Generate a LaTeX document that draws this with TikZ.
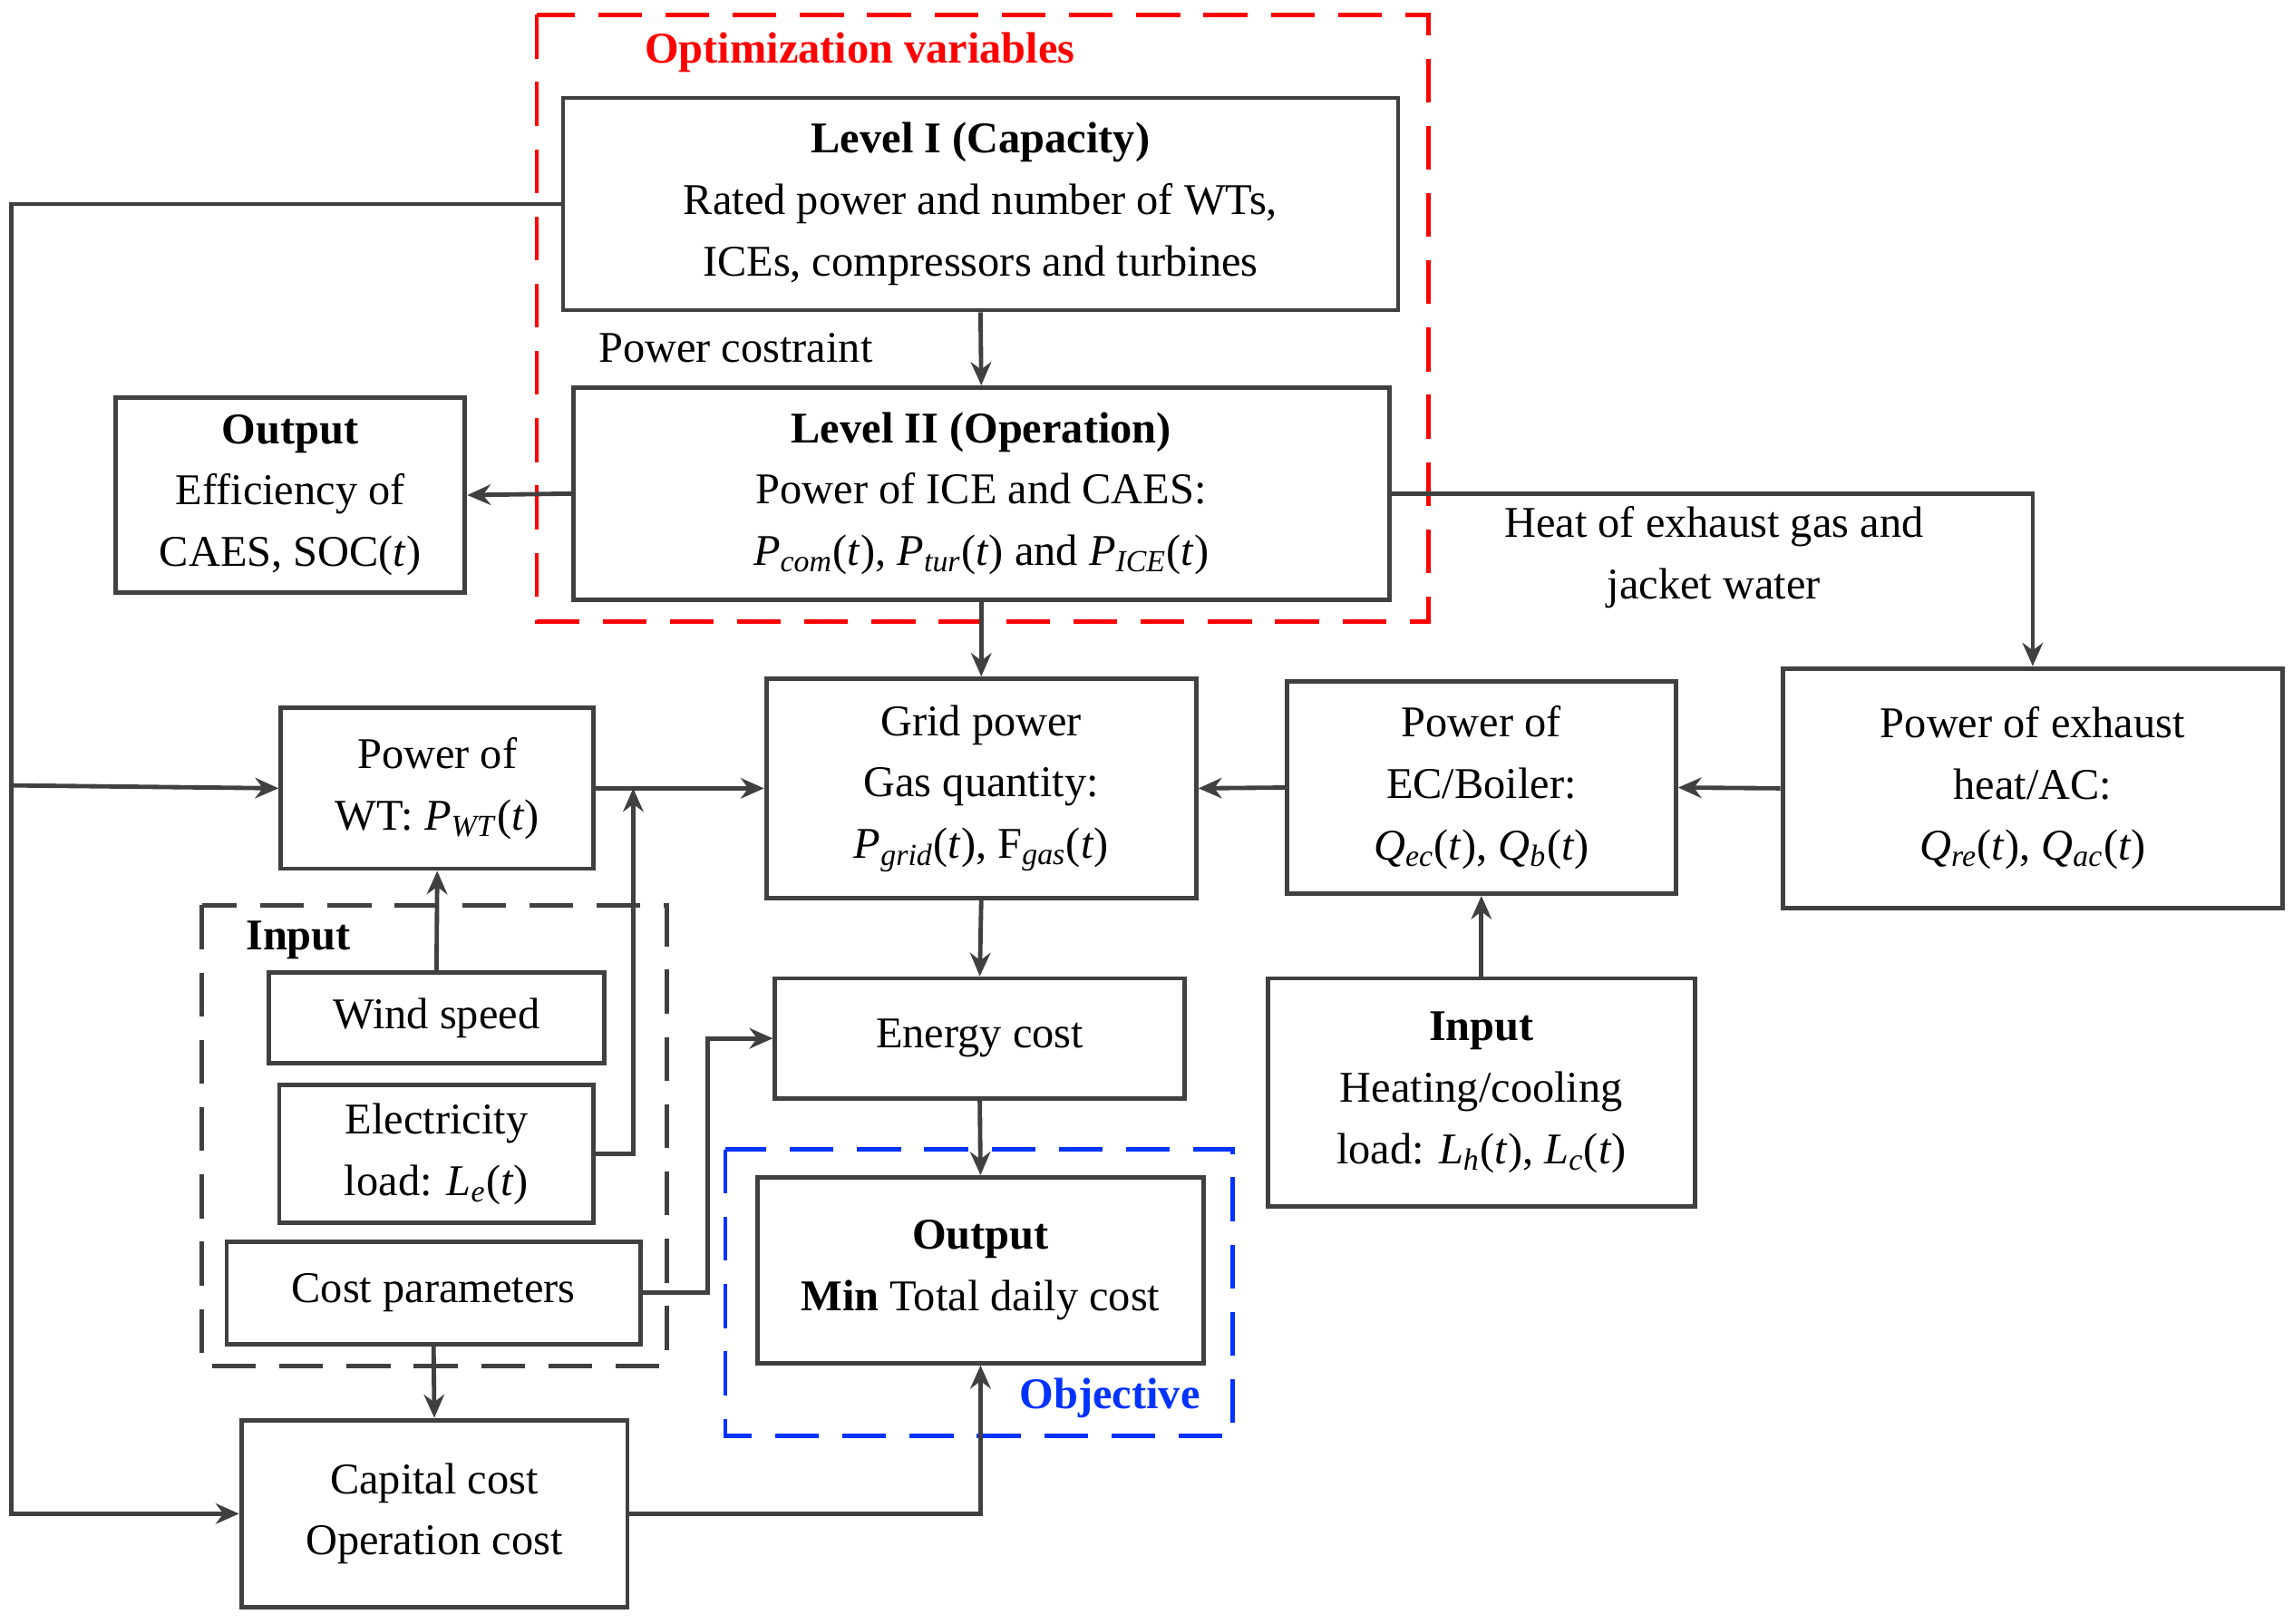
\documentclass[tikz,border=0pt]{standalone}
\usepackage{fontspec}
\setmainfont{Liberation Serif}
\usetikzlibrary{arrows.meta}
\newcommand\sbs[1]{\textsubscript{\textit{#1}}}
\newcommand\ii[1]{\textit{#1}}
\begin{document}
\begin{tikzpicture}[x=0.5pt,y=-0.5pt,
  box/.style={draw=lc,line width=1.5pt,inner sep=0pt,align=center,font=\fontsize{15}{21}\selectfont},
  con/.style={draw=lc,line width=1.5pt,-{Stealth[length=8pt,width=7pt]}},
  ln/.style={draw=lc,line width=1.5pt},
  dsh/.style={line width=1.5pt,dash pattern=on 15pt off 8pt},
  lab/.style={font=\fontsize{15}{21}\selectfont,align=center,inner sep=0pt}]
\definecolor{lc}{HTML}{404040}
\useasboundingbox (0,0) rectangle (1568,1110);
\draw[dsh,red] (367,10) rectangle (977,425);
\node[lab,red,font=\fontsize{15}{21}\selectfont\bfseries] (ov) at (588,36) {Optimization variables};
\draw[dsh,blue!80!cyan] (496,786) rectangle (843,982);
\node[lab,blue!80!cyan,font=\fontsize{15}{21}\selectfont\bfseries] (obj) at (759,956) {Objective};
\draw[dsh,lc] (138,619) rectangle (456,934);
\node[lab,font=\fontsize{15}{21}\selectfont\bfseries] (inl) at (204,643) {Input};

\node[box,minimum width=285.5pt,minimum height=72.5pt] (l1) at (670.5,139.5) {\textbf{Level I (Capacity)}\\Rated power and number of WTs,\\ICEs, compressors and turbines};
\node[box,minimum width=279pt,minimum height=72.5pt] (l2) at (671,337.5) {\textbf{Level II (Operation)}\\Power of ICE and CAES:\\\ii{P}\sbs{com}(\ii{t}), \ii{P}\sbs{tur}(\ii{t}) and \ii{P}\sbs{ICE}(\ii{t})};
\node[box,minimum width=119.5pt,minimum height=66.5pt] (out) at (198.5,338.5) {\textbf{Output}\\Efficiency of\\CAES, SOC(\ii{t})};
\node[box,minimum width=171pt,minimum height=82pt] (ex) at (1390,539) {Power of exhaust\\heat/AC:\\\ii{Q}\sbs{re}(\ii{t}), \ii{Q}\sbs{ac}(\ii{t})};
\node[box,minimum width=133pt,minimum height=72.5pt] (ec) at (1013,538.5) {Power of\\EC/Boiler:\\\ii{Q}\sbs{ec}(\ii{t}), \ii{Q}\sbs{b}(\ii{t})};
\node[box,minimum width=147pt,minimum height=75pt] (gr) at (671,539) {Grid power\\Gas quantity:\\\ii{P}\sbs{grid}(\ii{t}), F\sbs{gas}(\ii{t})};
\node[box,minimum width=107pt,minimum height=55pt] (wt) at (299,539) {Power of\\WT: \ii{P}\sbs{WT}(\ii{t})};
\node[box,minimum width=146pt,minimum height=78pt] (inr) at (1013,747) {\textbf{Input}\\Heating/cooling\\load: \ii{L}\sbs{h}(\ii{t}), \ii{L}\sbs{c}(\ii{t})};
\node[box,minimum width=140pt,minimum height=41pt] (en) at (670,710) {Energy cost};
\node[box,minimum width=152.5pt,minimum height=63.5pt] (om) at (670.5,868.5) {\textbf{Output}\\\textbf{Min} Total daily cost};
\node[box,minimum width=114.5pt,minimum height=31pt] (ws) at (298.5,696) {Wind speed};
\node[box,minimum width=107.5pt,minimum height=47pt] (el) at (298.5,789) {Electricity\\load: \ii{L}\sbs{e}(\ii{t})};
\node[box,minimum width=141.5pt,minimum height=35pt] (cp) at (296.5,884) {Cost parameters};
\node[box,minimum width=132pt,minimum height=64pt] (cc) at (297,1035) {Capital cost\\Operation cost};

\node[lab] (pc) at (503,238) {Power costraint};
\node[lab] (hx) at (1172,381) {Heat of exhaust gas and\\jacket water};

\coordinate (lft) at (8,537);
\coordinate (j1) at (433,539);
\coordinate (c2) at (484,800);
\draw[ln] (l1.west) -| (lft);
\draw[con] (lft) |- (cc.west);
\draw[con] (lft) -- (wt.west);
\draw[con] (l1.south) -- (l2.north);
\draw[con] (l2.west) -- (out.east);
\draw[con] (l2.east) -| (ex.north);
\draw[con] (l2.south) -- (gr.north);
\draw[con] (ex.west) -- (ec.east);
\draw[con] (ec.west) -- (gr.east);
\draw[con] (wt.east) -- (gr.west);
\draw[con] (inr.north) -- (ec.south);
\draw[con] (gr.south) -- (en.north);
\draw[con] (en.south) -- (om.north);
\draw[con] (ws.north) -- (wt.south);
\draw[con] (el.east) -| (j1);
\draw[ln] (cp.east) -| (c2);
\draw[con] (c2) |- (en.west);
\draw[con] (cp.south) -- (cc.north);
\draw[con] (cc.east) -| (om.south);
\end{tikzpicture}
\end{document}
